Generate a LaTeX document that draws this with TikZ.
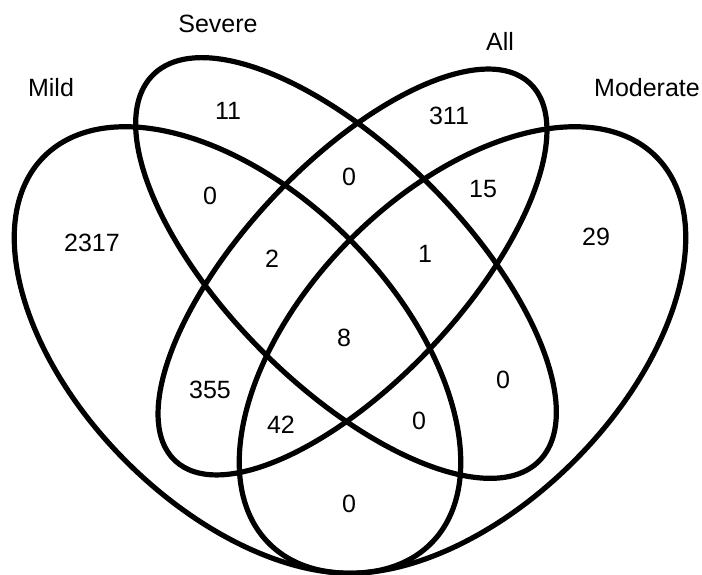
\documentclass[tikz,border=0pt]{standalone}
\usepackage{fontspec}
\setmainfont{Liberation Sans}
\begin{document}
\begin{tikzpicture}[x=1pt,y=1pt,
  setline/.style={line width=5.2pt, draw=black},
  lbl/.style={font=\fontsize{25}{25}\selectfont, inner sep=0pt}]
\useasboundingbox (0,0) rectangle (702,575);
% Mild
\draw[setline, rotate around={-45:(237.5,225)}] (237.5,225) ellipse [x radius=273.6pt, y radius=157.5pt];
% Moderate
\draw[setline, rotate around={45:(462.5,225)}] (462.5,225) ellipse [x radius=273.6pt, y radius=157.5pt];
% Severe
\draw[setline, rotate around={-45:(346,307)}] (346,307) ellipse [x radius=273pt, y radius=118pt];
% All
\draw[setline, rotate around={46.75:(352.5,303)}] (352.5,303) ellipse [x radius=259pt, y radius=109pt];
% set names
\node[lbl] (tMild) at (51,487) {Mild};
\node[lbl] (tSevere) at (218,551) {Severe};
\node[lbl] (tAll) at (500,534) {All};
\node[lbl] (tModerate) at (647,487) {Moderate};
% counts
\node[lbl] (nA) at (92,332) {2317};
\node[lbl] (nB) at (228,464) {11};
\node[lbl] (nC) at (449,459) {311};
\node[lbl] (nD) at (596,338) {29};
\node[lbl] (nAB) at (210,379) {0};
\node[lbl] (nBC) at (349,398) {0};
\node[lbl] (nCD) at (483,386) {15};
\node[lbl] (nABC) at (272,316) {2};
\node[lbl] (nBCD) at (425,321) {1};
\node[lbl] (nABCD) at (344,237) {8};
\node[lbl] (nAC) at (210,185) {355};
\node[lbl] (nACD) at (281,150) {42};
\node[lbl] (nABD) at (419,154) {0};
\node[lbl] (nBD) at (503,195) {0};
\node[lbl] (nAD) at (349,71) {0};
\end{tikzpicture}
\end{document}
